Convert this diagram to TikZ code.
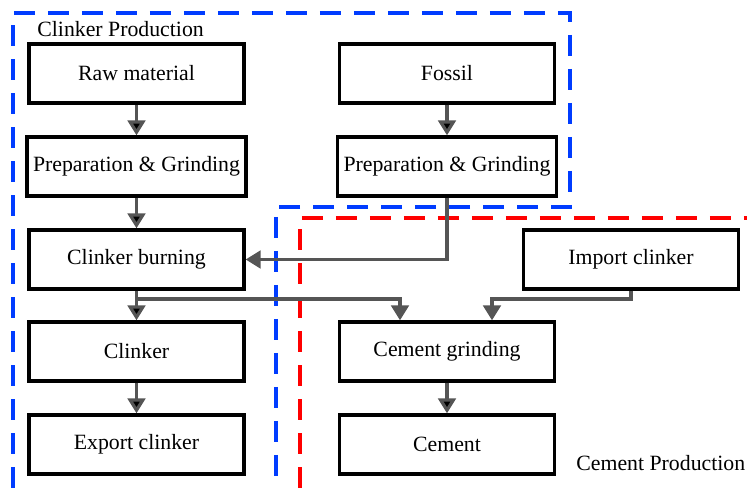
\documentclass[tikz,border=0pt]{standalone}
\usepackage{fontspec}
\setmainfont{Liberation Serif}
\usepackage{tikz}
\usetikzlibrary{arrows.meta,calc}
\definecolor{flowgray}{RGB}{85,85,85}
\definecolor{zoneblue}{RGB}{0,60,255}
\definecolor{zonered}{RGB}{255,0,0}
\tikzset{
  stage/.style={shape=rectangle,draw,line width=1.9pt,minimum width=4.3cm,minimum height=1.18cm,
                font=\fontsize{12.4}{15}\selectfont},
  flow/.style={draw=flowgray,line width=1.8pt,-{Triangle[length=8.5pt,width=10pt]}},
  zone/.style={line width=1.9pt,dash pattern=on 0.42cm off 0.26cm},
  zonelabel/.style={anchor=west,inner sep=0pt,font=\fontsize{12.4}{15}\selectfont}
}

\begin{document}
\begin{tikzpicture}
\useasboundingbox (0,0) rectangle (14.94,9.76);

% zones
\draw[zone,zoneblue] (0.26,0) -- (0.26,9.5) -- (11.4,9.5) -- (11.4,5.62) -- (5.52,5.62) -- (5.52,0);
\draw[zone,zonered] (6.0,0) -- (6.0,5.4) -- (14.94,5.4);
\node(clinkerzone) at (0.74,9.18)[zonelabel] {Clinker Production};
\node(cementzone) at (11.52,0.5)[zonelabel] {Cement Production};

\node(raw) at (2.73,8.29)[stage]        {Raw material};
\node(prepL) at (2.73,6.43)[stage]      {Preparation \& Grinding};
\node(burning) at (2.73,4.57)[stage]    {Clinker burning};
\node(clinker) at (2.73,2.73)[stage]    {Clinker};
\node(export) at (2.73,0.87)[stage]     {Export clinker};

\node(fossil) at (8.94,8.29)[stage]     {Fossil};
\node(prepR) at (8.94,6.43)[stage]      {Preparation \& Grinding};
\node(import) at (12.62,4.57)[stage]    {Import clinker};
\node(grinding) at (8.94,2.73)[stage]   {Cement grinding};
\node(cement) at (8.94,0.87)[stage]     {Cement};

\coordinate(split) at (2.73,3.78);

\path [flow]
  (raw)      edge    (prepL)
  (prepL)    edge    (burning)
  (burning)  edge    (clinker)
  (clinker)  edge    (export)
  (fossil)   edge    (prepR)
  (grinding) edge    (cement);

\draw[flow] (prepR.south) |- (burning.east);
\draw[flow] (split) -| ([xshift=-0.94cm]grinding.north);
\draw[flow] (import.south) -- (import.south |- split) -| ([xshift=0.9cm]grinding.north);

\end{tikzpicture}
\end{document}
